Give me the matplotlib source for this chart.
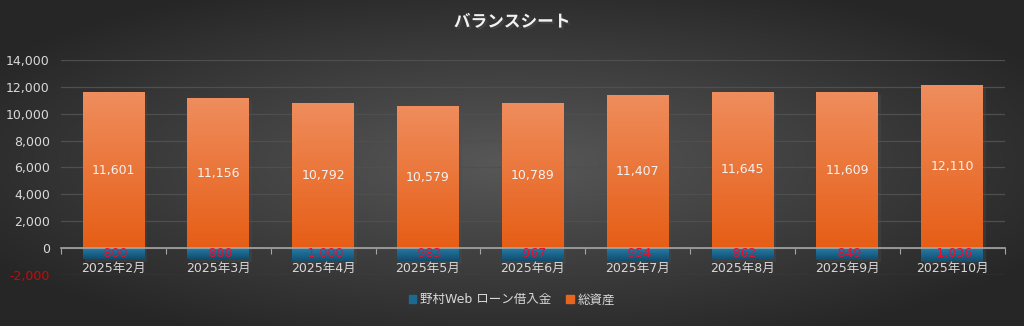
import numpy as np
import matplotlib.pyplot as plt
from matplotlib.patches import Patch
import matplotlib.patheffects as pe

plt.rcParams['font.family'] = ['DejaVu Sans', 'Noto Sans CJK JP']

months = ['2025年2月', '2025年3月', '2025年4月', '2025年5月', '2025年6月',
          '2025年7月', '2025年8月', '2025年9月', '2025年10月']
loan = [-800, -800, -1000, -983, -967, -954, -862, -849, -1036]
assets = [11601, 11156, 10792, 10579, 10789, 11407, 11645, 11609, 12110]
yticks = [-2000, 0, 2000, 4000, 6000, 8000, 10000, 12000, 14000]

fig = plt.figure(figsize=(10.24, 3.26), dpi=100)

# radial gradient background
bg = fig.add_axes([0, 0, 1, 1])
yy, xx = np.mgrid[-1:1:326j, -1:1:1024j]
r = np.sqrt(xx**2 + yy**2)
r = np.clip(r / 1.2, 0, 1)
c0 = np.array([0x58, 0x58, 0x58]) / 255
c1 = np.array([0x26, 0x26, 0x26]) / 255
img = c0 + (c1 - c0) * r[..., None]
bg.imshow(img, aspect='auto', extent=[0, 1, 0, 1])
bg.axis('off')

ax = fig.add_axes([0.0596, 0.1564, 0.9214, 0.6596])
ax.patch.set_alpha(0)
x = np.arange(len(months))
w = 0.59


def gradient_bars(bars, top, bottom):
    for b in bars:
        bx, by = b.get_x(), b.get_y()
        bw, bh = b.get_width(), b.get_height()
        g = np.linspace(0, 1, 100)[:, None, None]
        col = np.array(top) + (np.array(bottom) - np.array(top)) * g
        col = np.repeat(col, 2, axis=1)
        y0, y1 = min(by, by + bh), max(by, by + bh)
        im = ax.imshow(col, aspect='auto', extent=[bx, bx + bw, y0, y1],
                       origin='upper', zorder=3)
        im.set_clip_path(b)
        b.set_facecolor('none')


shadow = [pe.SimplePatchShadow(offset=(2, -2), alpha=0.35), pe.Normal()]
b1 = ax.bar(x, loan, w, color='#1a6a94', zorder=3, path_effects=shadow)
b2 = ax.bar(x, assets, w, color='#e8651f', zorder=3, path_effects=shadow)
gradient_bars(b2, (0xef / 255, 0x8d / 255, 0x5d / 255), (0xe6 / 255, 0x5e / 255, 0x16 / 255))
gradient_bars(b1, (0x25 / 255, 0x7c / 255, 0xa8 / 255), (0x12 / 255, 0x4c / 255, 0x6c / 255))

for i in range(len(months)):
    ax.text(x[i], assets[i] / 2, f'{assets[i]:,}', ha='center', va='center',
            color='#f2f2f2', fontsize=9, zorder=5)
    ax.text(x[i], -400, f'{loan[i]:,}', ha='center', va='center',
            color='#e8102c', fontsize=9, zorder=5)
    ax.text(x[i], -1500, months[i], ha='center', va='center',
            color='#d9d9d9', fontsize=9, zorder=6)

ax.set_xlim(-0.5, len(months) - 0.5)
ax.set_ylim(-2000, 14000)
ax.set_yticks(yticks)
ax.set_yticklabels([f'{v:,}' for v in yticks])
for lab, v in zip(ax.get_yticklabels(), yticks):
    lab.set_color('#e00000' if v < 0 else '#d9d9d9')
ax.tick_params(axis='y', length=0, labelsize=9, pad=8)
ax.yaxis.grid(True, color='#4f4f4f', lw=0.9, zorder=0)
ax.set_axisbelow(True)

ax.set_xticks(np.arange(-0.5, len(months)))
ax.set_xticklabels([])
ax.tick_params(axis='x', length=4, color='#a6a6a6', direction='out')
for s in ['top', 'right', 'left']:
    ax.spines[s].set_visible(False)
ax.spines['bottom'].set_position(('data', 0))
ax.spines['bottom'].set_color('#a6a6a6')
ax.spines['bottom'].set_linewidth(1.2)
ax.spines['bottom'].set_zorder(4)

fig.text(0.5, 0.933, 'バランスシート', ha='center', va='center', fontsize=12,
         fontweight='bold', color='#f2f2f2',
         path_effects=[pe.withSimplePatchShadow(offset=(1.5, -1.5), alpha=0.6)])

handles = [Patch(color='#1a6a94', label='野村Web ローン借入金'),
           Patch(color='#e8651f', label='総資産')]
fig.legend(handles=handles, loc='center', bbox_to_anchor=(0.5, 0.08), ncol=2,
           frameon=False, fontsize=9, labelcolor='#d9d9d9', handlelength=0.6,
           handleheight=0.6, handletextpad=0.3, columnspacing=1.2)

fig.savefig('out.png', dpi=100)
